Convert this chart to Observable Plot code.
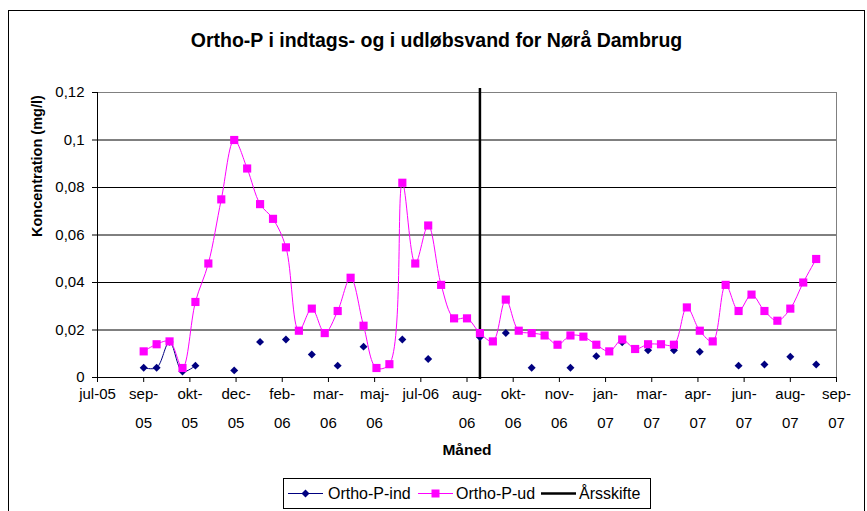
<!DOCTYPE html>
<html>
<head>
<meta charset="utf-8">
<script src="https://cdn.jsdelivr.net/npm/d3@7"></script>
<script src="https://cdn.jsdelivr.net/npm/@observablehq/plot@0.6"></script>
<style>
  body { margin: 0; background: #fff; overflow: hidden; font-family: "Liberation Sans", Arial, sans-serif; }
  #wrap { position: relative; width: 867px; height: 511px; overflow: hidden; }
  #frame { position: absolute; left: 8px; top: 10px; width: 857px; height: 540px; border: 1px solid #000; box-sizing: border-box; }
  #chart { position: absolute; left: 0; top: 0; }
  #title { position: absolute; left: 8px; width: 857px; top: 29px; text-align: center; font-weight: bold; font-size: 19.5px; line-height: 22px; }
  #legend { position: absolute; left: 283px; top: 478px; width: 368px; height: 31px; border: 1px solid #000; box-sizing: border-box; background: #fff; }
  #legend svg { display: block; font-family: "Liberation Sans", Arial, sans-serif; font-size: 16px; }
</style>
</head>
<body>
<div id="wrap">
  <div id="frame"></div>
  <div id="chart"></div>
  <div id="title">Ortho-P i indtags- og i udløbsvand for Nørå Dambrug</div>
  <div id="legend">
    <svg width="366" height="29">
      <line x1="4" x2="39" y1="14.5" y2="14.5" stroke="#000080" stroke-width="1"></line>
      <path d="M21.5,10.5L25.5,14.5L21.5,18.5L17.5,14.5Z" fill="#000080"></path>
      <text x="44" y="20">Ortho-P-ind</text>
      <line x1="134" x2="169" y1="14.5" y2="14.5" stroke="#FF00FF" stroke-width="1"></line>
      <rect x="147.5" y="10.5" width="8" height="8" fill="#FF00FF"></rect>
      <text x="172" y="20">Ortho-P-ud</text>
      <line x1="257" x2="292" y1="14.5" y2="14.5" stroke="#000" stroke-width="2.5"></line>
      <text x="295" y="20">Årsskifte</text>
    </svg>
  </div>
</div>
<script>
// Sampling dates (bi-weekly)
const dates = [
  "2005-09-05","2005-09-19","2005-10-03","2005-10-17","2005-10-31","2005-11-14","2005-11-28",
  "2005-12-12","2005-12-26","2006-01-09","2006-01-23","2006-02-06","2006-02-20","2006-03-06",
  "2006-03-20","2006-04-03","2006-04-17","2006-05-01","2006-05-15","2006-05-29","2006-06-12",
  "2006-06-26","2006-07-10","2006-07-24","2006-08-07","2006-08-21","2006-09-04","2006-09-18",
  "2006-10-02","2006-10-16","2006-10-30","2006-11-13","2006-11-27","2006-12-11","2006-12-25",
  "2007-01-08","2007-01-22","2007-02-05","2007-02-19","2007-03-05","2007-03-19","2007-04-02",
  "2007-04-16","2007-04-30","2007-05-14","2007-05-28","2007-06-11","2007-06-25","2007-07-09",
  "2007-07-23","2007-08-06","2007-08-20","2007-09-03"
];
// Ortho-P-ud (mg/l)
const orthoUd = [
  0.011, 0.014, 0.0152, 0.004, 0.0318, 0.048, 0.075,
  0.100, 0.088, 0.073, 0.0668, 0.0548, 0.0197, 0.029,
  0.0187, 0.028, 0.042, 0.0218, 0.004, 0.0056, 0.082,
  0.048, 0.064, 0.039, 0.0249, 0.0249, 0.0187, 0.0152,
  0.0328, 0.0197, 0.0187, 0.0177, 0.0138, 0.0177, 0.0172,
  0.0138, 0.011, 0.016, 0.012, 0.014, 0.014, 0.0138,
  0.0295, 0.0197, 0.0152, 0.039, 0.028, 0.0349, 0.028,
  0.0239, 0.029, 0.040, 0.0499
];
// Ortho-P-ind (mg/l), null = no measurement
const orthoInd = [
  0.0041, 0.0041, 0.015, 0.0025, 0.005, null, null,
  0.003, null, 0.015, null, 0.016, null, 0.0097,
  null, 0.005, null, 0.013, null, null, 0.016,
  null, 0.0078, null, null, null, 0.017, null,
  0.0187, null, 0.0041, null, null, 0.0041, null,
  0.009, null, 0.0148, null, 0.0115, null, 0.0115,
  null, 0.0108, null, null, 0.005, null, 0.0055,
  null, 0.0087, null, 0.0055
];
// Year change marker
const yearChange = ["2006-09-04"];
// X axis ticks (every 50 days) and labels
const xTickDates = [
  "2005-07-17","2005-09-05","2005-10-25","2005-12-14","2006-02-02","2006-03-24","2006-05-13",
  "2006-07-02","2006-08-21","2006-10-10","2006-11-29","2007-01-18","2007-03-09","2007-04-28",
  "2007-06-17","2007-08-06","2007-09-25"
];
const xTickLabels = [
  "jul-05","sep-\n05","okt-\n05","dec-\n05","feb-\n06","mar-\n06","maj-\n06",
  "jul-06","aug-\n06","okt-\n06","nov-\n06","jan-\n07","mar-\n07","apr-\n07",
  "jun-\n07","aug-\n07","sep-\n07"
];
// Y axis ticks and labels
const yTicks = [0, 0.02, 0.04, 0.06, 0.08, 0.1, 0.12];
const yTickLabels = ["0", "0,02", "0,04", "0,06", "0,08", "0,1", "0,12"];

const parse = d3.utcParse("%Y-%m-%d");
const rows = dates.map((d, i) => ({date: parse(d), ud: orthoUd[i], ind: orthoInd[i]}));
const ticks = xTickDates.map((d, i) => {
  const parts = xTickLabels[i].split("\n");
  return {date: parse(d), top: parts[0], bottom: parts[1] || ""};
});
const xDomain = [parse(xTickDates[0]), parse(xTickDates[xTickDates.length - 1])];

const chart = Plot.plot({
  width: 867,
  height: 511,
  marginLeft: 97,
  marginRight: 31,
  marginTop: 92,
  marginBottom: 134,
  style: {fontFamily: "'Liberation Sans', Arial, sans-serif", background: "transparent", color: "#000", overflow: "visible"},
  x: {type: "utc", domain: xDomain, axis: null},
  y: {domain: [0, 0.12], axis: null},
  marks: [
    Plot.gridY(yTicks.slice(1, -1), {stroke: "#000", strokeOpacity: 1}),
    Plot.ruleY([yTicks[yTicks.length - 1]], {stroke: "#808080"}),
    Plot.ruleX([xDomain[1]], {stroke: "#808080"}),
    Plot.axisY({ticks: yTicks, tickSize: 5, tickPadding: 8, fontSize: 15, label: null,
      tickFormat: d => yTickLabels[yTicks.indexOf(d)]}),
    Plot.axisX({ticks: ticks.map(t => t.date), tickSize: 5, tickFormat: () => "", label: null}),
    Plot.ruleY([0], {stroke: "#000"}),
    Plot.ruleX([xDomain[0]], {stroke: "#000"}),
    Plot.text(ticks, {x: "date", text: "top", frameAnchor: "bottom", dy: 17, fontSize: 15, lineAnchor: "middle"}),
    Plot.text(ticks, {x: "date", text: "bottom", frameAnchor: "bottom", dy: 46, fontSize: 15, lineAnchor: "middle"}),
    Plot.text(["Måned"], {frameAnchor: "bottom", dy: 73, fontSize: 15.5, fontWeight: "bold", lineAnchor: "middle"}),
    Plot.text(["Koncentration (mg/l)"], {frameAnchor: "left", dx: -60, dy: 2, rotate: -90, fontSize: 14.5, fontWeight: "bold", lineAnchor: "middle"}),
    Plot.ruleX(yearChange, {x: d => parse(d), stroke: "#000", strokeWidth: 2.5, insetTop: -4, insetBottom: -2}),
    Plot.line(rows, {x: "date", y: "ind", stroke: "#000080", strokeWidth: 1, curve: "catmull-rom"}),
    Plot.dot(rows, {x: "date", y: "ind", symbol: "diamond2", fill: "#000080", r: 3.6, stroke: null}),
    Plot.line(rows, {x: "date", y: "ud", stroke: "#FF00FF", strokeWidth: 1, curve: "catmull-rom"}),
    Plot.dot(rows, {x: "date", y: "ud", symbol: "square", fill: "#FF00FF", r: 4.6, stroke: null})
  ]
});
document.getElementById("chart").appendChild(chart);
</script>
</body>
</html>
